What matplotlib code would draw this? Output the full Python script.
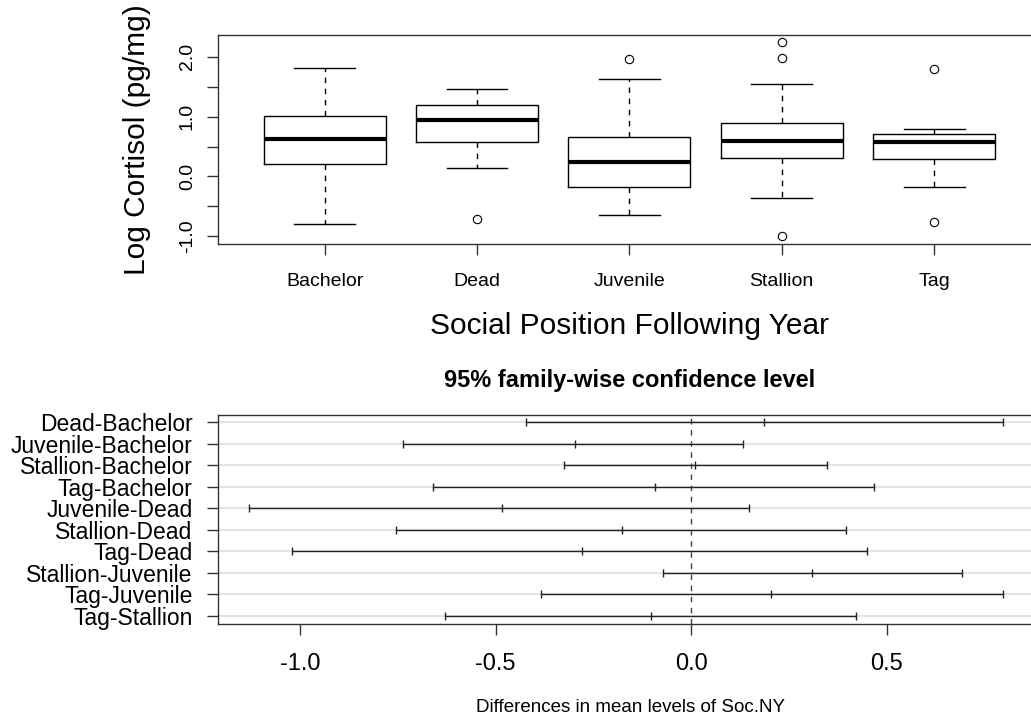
import matplotlib
matplotlib.use("Agg")
import matplotlib.pyplot as plt
import numpy as np

plt.rcParams['font.family'] = ['Liberation Sans', 'DejaVu Sans']

# ---- Top: boxplot data ----
groups = ["Bachelor", "Dead", "Juvenile", "Stallion", "Tag"]
whis_lo = [-0.79, 0.145, -0.64, -0.36, -0.17]
q1 = [0.20, 0.57, -0.17, 0.31, 0.285]
median = [0.62, 0.95, 0.245, 0.60, 0.575]
q3 = [1.01, 1.194, 0.66, 0.90, 0.71]
whis_hi = [1.814, 1.46, 1.63, 1.546, 0.80]
outliers = [[], [-0.71], [1.96], [2.24, 1.98, -1.0], [1.79, -0.765]]

# ---- Bottom: Tukey HSD comparisons ----
comparisons = ["Dead-Bachelor", "Juvenile-Bachelor", "Stallion-Bachelor", "Tag-Bachelor",
               "Juvenile-Dead", "Stallion-Dead", "Tag-Dead", "Stallion-Juvenile",
               "Tag-Juvenile", "Tag-Stallion"]
diff = [0.186, -0.298, 0.009, -0.093, -0.484, -0.177, -0.280, 0.310, 0.205, -0.102]
lwr = [-0.422, -0.736, -0.326, -0.661, -1.131, -0.755, -1.020, -0.072, -0.385, -0.629]
upr = [0.798, 0.133, 0.347, 0.469, 0.148, 0.397, 0.450, 0.692, 0.798, 0.423]

W, H = 1031, 719
fig = plt.figure(figsize=(W / 100, H / 100), dpi=100)
fig.patch.set_facecolor('white')

spine_c = '#333333'

def fx(px):
    return px / W

def fy(py):
    return 1 - py / H

# ---- Top axes ----
ax1 = fig.add_axes([fx(218), fy(244), fx(1040.7) - fx(218), fy(34.7) - fy(244)])
stats = []
for i, g in enumerate(groups):
    stats.append(dict(label=g, med=median[i], q1=q1[i], q3=q3[i],
                      whislo=whis_lo[i], whishi=whis_hi[i], fliers=outliers[i]))
pos = np.arange(1, len(groups) + 1)
ax1.bxp(stats, positions=pos, widths=0.8, capwidths=0.4,
        boxprops=dict(color='black', linewidth=1.0),
        medianprops=dict(color='black', linewidth=3.0, solid_capstyle='butt'),
        whiskerprops=dict(color='black', linewidth=1.0, linestyle=(0, (4, 4))),
        capprops=dict(color='black', linewidth=1.0),
        flierprops=dict(marker='o', markersize=6, markerfacecolor='none',
                        markeredgecolor='black', markeredgewidth=0.8))
ax1.set_xlim(0.3, 5.7)
ax1.set_ylim(-1.13, 2.37)
yt = np.arange(-1.0, 2.01, 0.5)
ax1.set_yticks(yt)
ax1.set_yticklabels([f"{v:.1f}" if abs(v - round(v)) < 1e-9 else "" for v in yt],
                    rotation=90, va='center', fontsize=14)
ax1.set_xticks(pos)
ax1.set_xticklabels(groups, fontsize=14)
ax1.tick_params(axis='y', length=8, width=1, color=spine_c, pad=8)
ax1.tick_params(axis='x', length=8, width=1, color=spine_c, pad=13)
for s in ax1.spines.values():
    s.set_color(spine_c)
    s.set_linewidth(1.0)
fig.text(fx(137), fy(140), "Log Cortisol (pg/mg)", rotation=90, ha='center', va='center',
         fontsize=21.5)
fig.text(fx(630), fy(326), "Social Position Following Year", ha='center', va='center',
         fontsize=21.5)

# ---- Bottom axes ----
ax2 = fig.add_axes([fx(217.7), fy(624.3), fx(1034) - fx(217.7), fy(414.7) - fy(624.3)])
n = len(comparisons)
ypos = np.arange(n, 0, -1)
for y in ypos:
    ax2.axhline(y, color='#e3e3e3', linewidth=1.5, zorder=0)
ax2.axvline(0, color='#444444', linewidth=1.0, linestyle=(0, (4, 4)), zorder=1)
ax2.hlines(ypos, lwr, upr, color='#222222', linewidth=1.0, zorder=2)
ax2.plot(lwr, ypos, linestyle='none', marker='|', markersize=6, color='#222222', zorder=3)
ax2.plot(upr, ypos, linestyle='none', marker='|', markersize=6, color='#222222', zorder=3)
ax2.plot(diff, ypos, linestyle='none', marker='|', markersize=6, color='#222222', zorder=3)
ax2.set_xlim(-1.2105, 0.877)
ax2.set_ylim(0.614, 10.354)
ax2.set_yticks(ypos)
ax2.set_yticklabels(comparisons, fontsize=16.5)
ax2.set_xticks([-1.0, -0.5, 0.0, 0.5])
ax2.set_xticklabels(["-1.0", "-0.5", "0.0", "0.5"], fontsize=17)
ax2.tick_params(axis='y', length=8, width=1, color=spine_c, pad=10)
ax2.tick_params(axis='x', length=8, width=1, color=spine_c, pad=12.5)
for s in ax2.spines.values():
    s.set_color(spine_c)
    s.set_linewidth(1.0)
fig.text(fx(630), fy(380), "95% family-wise confidence level", ha='center', va='center',
         fontsize=17, fontweight='bold')
fig.text(fx(630), fy(707), "Differences in mean levels of Soc.NY", ha='center', va='center',
         fontsize=13.5)

fig.savefig("out.png", dpi=100)
